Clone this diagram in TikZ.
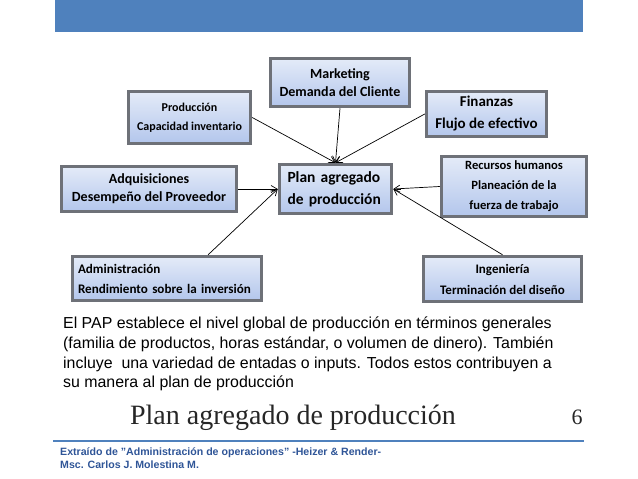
\documentclass[tikz,border=0pt]{standalone}
\usepackage{fontspec}
\setmainfont{Liberation Sans}
\newfontfamily\boxfont{Carlito}
\newfontfamily\titlefont{Liberation Serif}
\usetikzlibrary{arrows.meta}
\definecolor{barblue}{HTML}{4F81BD}
\definecolor{boxtop}{HTML}{E4EBF8}
\definecolor{boxbot}{HTML}{B3C6EC}
\definecolor{boxrim}{HTML}{6E7178}
\definecolor{footblue}{HTML}{2F5597}
\tikzset{
  bevelbox/.style 2 args={rectangle, draw=boxrim, line width=3.5pt, top color=boxtop,
    bottom color=boxbot, font=\boxfont\bfseries\fontsize{#1}{#2}\selectfont,
    align=center, inner sep=0pt},
  feed/.style={-{Straight Barb[length=6pt,width=7pt]}, line width=0.7pt}
}
\begin{document}
\begin{tikzpicture}[x=1pt, y=-1pt]
\useasboundingbox (0,0) rectangle (638,479);
% top bar
\fill[barblue] (55,0) rectangle (583,32);

% input boxes
\node[bevelbox={14}{18.5}, minimum width=139pt, minimum height=48pt] (mkt) at (340,82.5) {Marketing\\Demanda del Cliente};
\node[bevelbox={12}{19}, minimum width=122pt, minimum height=52pt] (prod) at (189.5,117.5) {Producción\\Capacidad inventario};
\node[bevelbox={15}{22}, minimum width=120pt, minimum height=45pt] (fin) at (486.5,114) {Finanzas\\Flujo de efectivo};
\node[bevelbox={14}{18}, minimum width=175pt, minimum height=45pt] (adq) at (149,189) {Adquisiciones\\Desempeño del Proveedor};
\node[bevelbox={12.6}{20}, minimum width=145pt, minimum height=60pt] (rh) at (514,186.5) {Recursos humanos\\Planeación de la\\fuerza de trabajo};
\node[bevelbox={13.1}{20}, minimum width=189pt, minimum height=44pt, align=left, text width=178pt] (adm) at (167,278.5) {Administración\\Rendimiento sobre la inversión};
\node[bevelbox={13}{21}, minimum width=158pt, minimum height=45pt] (ing) at (502.5,279) {Ingeniería\\Terminación del diseño};

% center box
\node[bevelbox={15.5}{22}, minimum width=112pt, minimum height=49pt, align=left, text width=96pt] (plan) at (335.5,189) {Plan agregado\\de producción};

% arrows into the plan
\draw[feed] (mkt.south) -- (plan.north);
\draw[feed] (prod.east) -- (plan.north);
\draw[feed] (fin.west) -- (plan.north);
\draw[feed] (adq.east) -- (plan.west);
\draw[feed] (adm.30) -- (plan.west);
\draw[feed] (rh.west) -- (plan.east);
\draw[feed] (ing.north) -- (plan.east);

% text
\node[anchor=north west, align=left, inner sep=0pt, font=\fontsize{15.9}{19.6}\selectfont] (txt) at (63,317)
  {El PAP establece el nivel global de producción en términos generales\\
   (familia de productos, horas estándar, o volumen de dinero). También\\
   incluye\ \ una variedad de entadas o inputs. Todos estos contribuyen a\\
   su manera al plan de producción};
\node[font=\titlefont\fontsize{28}{32}\selectfont, text=black!85] (title) at (293,418) {Plan agregado de producción};
\node[font=\titlefont\fontsize{22}{26}\selectfont, text=black!85] (num) at (577,417) {6};
\draw[barblue, line width=2pt] (53,441) -- (584,441);
\node[anchor=north west, align=left, inner sep=0pt, text=footblue,
  font=\bfseries\fontsize{10.6}{12.5}\selectfont] (foot) at (60,448)
  {Extraído de "Administración de operaciones" -Heizer \& Render-\\Msc. Carlos J. Molestina M.};
\end{tikzpicture}
\end{document}
